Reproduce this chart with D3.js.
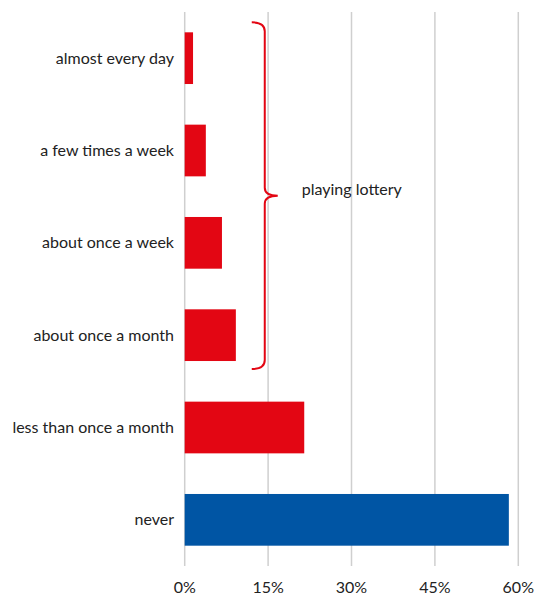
<!DOCTYPE html>
<html><head><meta charset="utf-8">
<script src="https://cdn.jsdelivr.net/npm/d3@7"></script>
<style>body{margin:0;background:#fff}svg text{font-family:Lato,"Open Sans",sans-serif;fill:#222}</style>
</head><body><svg id="c" width="535" height="596"></svg>
<script>
const categories = ["almost every day","a few times a week","about once a week","about once a month","less than once a month","never"];
const values = [1.5, 3.8, 6.7, 9.2, 21.5, 58.3];
const colors = ["#e30613","#e30613","#e30613","#e30613","#e30613","#0055a4"];
const ticks = [0, 15, 30, 45, 60];
const tickLabels = ["0%","15%","30%","45%","60%"];
const braceLabel = "playing lottery";
const braceGroup = ["almost every day","about once a month"];

(function(){
const svg = d3.select("#c");
const x = d3.scaleLinear().domain([0,60]).range([184.7,518.3]);
const y = d3.scaleBand().domain(categories).range([12,566]).paddingInner(0.44).paddingOuter(0.22);

svg.append("g").selectAll("line").data(ticks).join("line")
  .attr("x1",d=>x(d)).attr("x2",d=>x(d)).attr("y1",12).attr("y2",566)
  .attr("stroke","#cfcfcf").attr("stroke-width",1.5);

svg.append("g").selectAll("rect").data(categories).join("rect")
  .attr("x",x(0)).attr("y",d=>y(d)).attr("height",y.bandwidth())
  .attr("width",(d,i)=>x(values[i])-x(0)).attr("fill",(d,i)=>colors[i]);

svg.append("g").selectAll("text").data(categories).join("text")
  .attr("x",174).attr("y",d=>y(d)+y.bandwidth()/2).attr("dy","0.35em")
  .attr("text-anchor","end").attr("font-size",16).text(d=>d);

svg.append("g").selectAll("text").data(ticks).join("text")
  .attr("x",d=>x(d)).attr("y",593).attr("text-anchor","middle")
  .attr("font-size",16).text((d,i)=>tickLabels[i]);

const bx = x(14.4);
const bTop = y(braceGroup[0]) - 10;
const bBot = y(braceGroup[1]) + y.bandwidth() + 8;
const mid = (bTop+bBot)/2;
const p = `M${bx-13},${bTop} Q${bx},${bTop} ${bx},${bTop+9} L${bx},${mid-8} Q${bx},${mid} ${bx+13},${mid} Q${bx},${mid} ${bx},${mid+8} L${bx},${bBot-9} Q${bx},${bBot} ${bx-13},${bBot}`;
svg.append("path").attr("d",p).attr("fill","none").attr("stroke","#e30613").attr("stroke-width",2);
svg.append("text").attr("x",bx+37).attr("y",mid-1).attr("font-size",16).text(braceLabel);
})();
</script></body></html>
